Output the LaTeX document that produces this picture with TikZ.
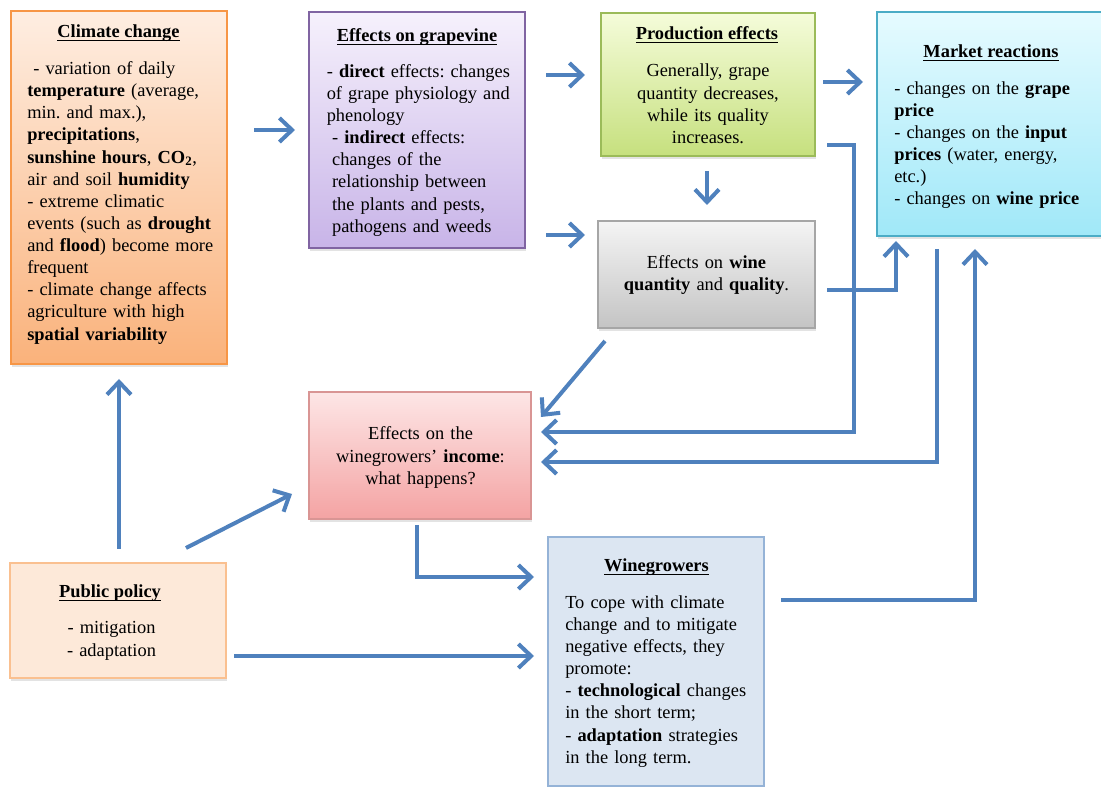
\documentclass[tikz,border=0pt]{standalone}
\usepackage{fontspec}
\setmainfont{Liberation Serif}
\usetikzlibrary{arrows.meta,calc,shadows}
\frenchspacing
\definecolor{arrblue}{HTML}{4F81BD}
\definecolor{ccB}{HTML}{F79646}\definecolor{ccT}{HTML}{FEEEE2}\definecolor{ccBot}{HTML}{FAB27B}
\definecolor{gvB}{HTML}{8064A2}\definecolor{gvT}{HTML}{F6F1FC}\definecolor{gvBot}{HTML}{C8B4E8}
\definecolor{peB}{HTML}{9BBB59}\definecolor{peT}{HTML}{F5FCDA}\definecolor{peBot}{HTML}{C6E07E}
\definecolor{mrB}{HTML}{4BACC6}\definecolor{mrT}{HTML}{E6FBFF}\definecolor{mrBot}{HTML}{A0E8F8}
\definecolor{weB}{HTML}{A6A6A6}\definecolor{weT}{HTML}{F4F4F4}\definecolor{weBot}{HTML}{C4C4C4}
\definecolor{incB}{HTML}{D99594}\definecolor{incT}{HTML}{FDE6E6}\definecolor{incBot}{HTML}{F4A3A3}
\definecolor{ppB}{HTML}{FAC090}\definecolor{ppF}{HTML}{FDE9D9}
\definecolor{wgB}{HTML}{95B3D7}\definecolor{wgF}{HTML}{DCE6F2}
\newcommand\hdul[1]{\setbox0\hbox{#1}\rlap{\copy0}\rule[-2.4pt]{\wd0}{0.75pt}}
\begin{document}
\begin{tikzpicture}[x=0.75pt,y=-0.75pt,
  font=\fontsize{13.8}{16.6}\selectfont,
  box/.style={draw, line width=1.5pt, inner sep=0pt,
    drop shadow={shadow xshift=1pt, shadow yshift=-2.5pt, opacity=0.22}},
  arr/.style={draw=arrblue, line width=3pt, -{Straight Barb[length=9.5pt,width=18pt]}},
  body/.style={inner sep=0pt, align=left, anchor=base west},
  ctr/.style={inner sep=0pt, align=center, anchor=base}]
\useasboundingbox (0,0) rectangle (1101,787);
% boxes
\node[box, draw=ccB, top color=ccT, bottom color=ccBot, minimum width=162pt, minimum height=264.75pt] (cc) at (119,187.5) {};
\node[box, draw=gvB, top color=gvT, bottom color=gvBot, minimum width=162pt, minimum height=177pt] (gv) at (417,130) {};
\node[box, draw=peB, top color=peT, bottom color=peBot, minimum width=160.5pt, minimum height=107.25pt] (pe) at (708,84.5) {};
\node[box, draw=mrB, top color=mrT, bottom color=mrBot, minimum width=172.5pt, minimum height=168pt] (mr) at (992,124) {};
\node[box, draw=weB, top color=weT, bottom color=weBot, minimum width=162.75pt, minimum height=80.25pt] (we) at (706.5,274.5) {};
\node[box, draw=incB, top color=incT, bottom color=incBot, minimum width=166.5pt, minimum height=95.25pt] (inc) at (420,455.5) {};
\node[box, draw=ppB, fill=ppF, minimum width=162pt, minimum height=86.25pt] (pp) at (118,620.5) {};
\node[box, draw=wgB, fill=wgF, minimum width=162pt, minimum height=186.75pt] (wg) at (656,661.5) {};
% texts
\node[ctr] (cch) at (118.5,37.5) {\bfseries\hdul{Climate change}};
\node[body, text width=200pt] (cct) at (27,74.5) {\hspace*{4.5pt}- variation of daily\\ \textbf{temperature} (average,\\ min. and max.),\\ \textbf{precipitations},\\ \textbf{sunshine hours}, \textbf{CO\textsubscript{2}},\\ air and soil \textbf{humidity}\\ - extreme climatic\\ events (such as \textbf{drought}\\ and \textbf{flood}) become more\\ frequent\\ - climate change affects\\ agriculture with high\\ \textbf{spatial variability}};
\node[ctr] (gvh) at (417,42) {\bfseries\hdul{Effects on grapevine}};
\node[body, text width=190pt] (gvt) at (326.5,77.3) {- \textbf{direct} effects: changes\\ of grape physiology and\\ phenology\\ \hspace*{4pt}- \textbf{indirect} effects:\\ \hspace*{4pt}changes of the\\ \hspace*{4pt}relationship between\\ \hspace*{4pt}the plants and pests,\\ \hspace*{4pt}pathogens and weeds};
\node[ctr] (peh) at (707,40) {\bfseries\hdul{Production effects}};
\node[ctr, text width=150pt] (pet) at (708,77) {Generally, grape\\ quantity decreases,\\ while its quality\\ increases.};
\node[ctr] (mrh) at (991,58) {\bfseries\hdul{Market reactions}};
\node[body, text width=190pt] (mrt) at (894,94.3) {- changes on the \textbf{grape}\\ \textbf{price}\\ - changes on the \textbf{input}\\ \textbf{prices} (water, energy,\\ etc.)\\ - changes on \textbf{wine price}};
\node[ctr, text width=150pt] (wet) at (706.5,268.5) {Effects on \textbf{wine}\\ \textbf{quantity} and \textbf{quality}.};
\node[ctr, text width=160pt] (inct) at (420.5,440) {Effects on the\\ winegrowers' \textbf{income}:\\ what happens?};
\node[ctr] (pph) at (110,598) {\bfseries\hdul{Public policy}};
\node[ctr, text width=100pt] (ppt) at (111.5,634) {- mitigation\\ - adaptation};
\node[ctr] (wgh) at (656.5,571.7) {\bfseries\hdul{Winegrowers}};
\node[body, text width=170pt] (wgt) at (565,608.3) {To cope with climate\\ change and to mitigate\\ negative effects, they\\ promote:\\ - \textbf{technological} changes\\ in the short term;\\ - \textbf{adaptation} strategies\\ in the long term.};
% connectors
\draw[arr] ($(cc.east |- 0,130)+(26,0)$) -- ($(gv.west |- 0,130)+(-13,0)$);
\draw[arr] ($(gv.east |- 0,75)+(20,0)$) -- ($(pe.west |- 0,75)+(-15,0)$);
\draw[arr] ($(gv.east |- 0,235)+(20,0)$) -- ($(we.west |- 0,235)+(-12,0)$);
\draw[arr] ($(pe.east |- 0,82)+(7,0)$) -- ($(mr.west |- 0,82)+(-13,0)$);
\draw[arr] ($(pe.south)+(-1,14)$) -- ($(we.north)+(0.5,-15)$);
\draw[arr] ($(pe.east |- 0,145)+(11,0)$) -- ++(27,0) |- ($(inc.east |- 0,432)+(9,0)$);
\draw[arr] ($(we.east |- 0,290)+(11,0)$) -| ($(mr.south west)+(20,4)$);
\draw[arr] ($(mr.south west)+(61,12)$) |- ($(inc.east |- 0,462)+(9,0)$);
\draw[arr] ($(wg.east |- 0,600)+(16,0)$) -| ($(mr.south west)+(99,12)$);
\draw[arr] ($(we.south west)+(8,12)$) -- ($(inc.north east)+(9,26)$);
\draw[arr] ($(pp.north)+(1,-13)$) -- ($(cc.south)+(0,14)$);
\draw[arr] ($(pp.north)+(68,-14)$) -- ($(inc.west |- 0,494)+(-16,0)$);
\draw[arr] ($(inc.south)+(-3,5)$) |- ($(wg.west |- 0,577)+(-13,0)$);
\draw[arr] ($(pp.east |- 0,656)+(7,0)$) -- ($(wg.west |- 0,656)+(-13,0)$);
\end{tikzpicture}
\end{document}
